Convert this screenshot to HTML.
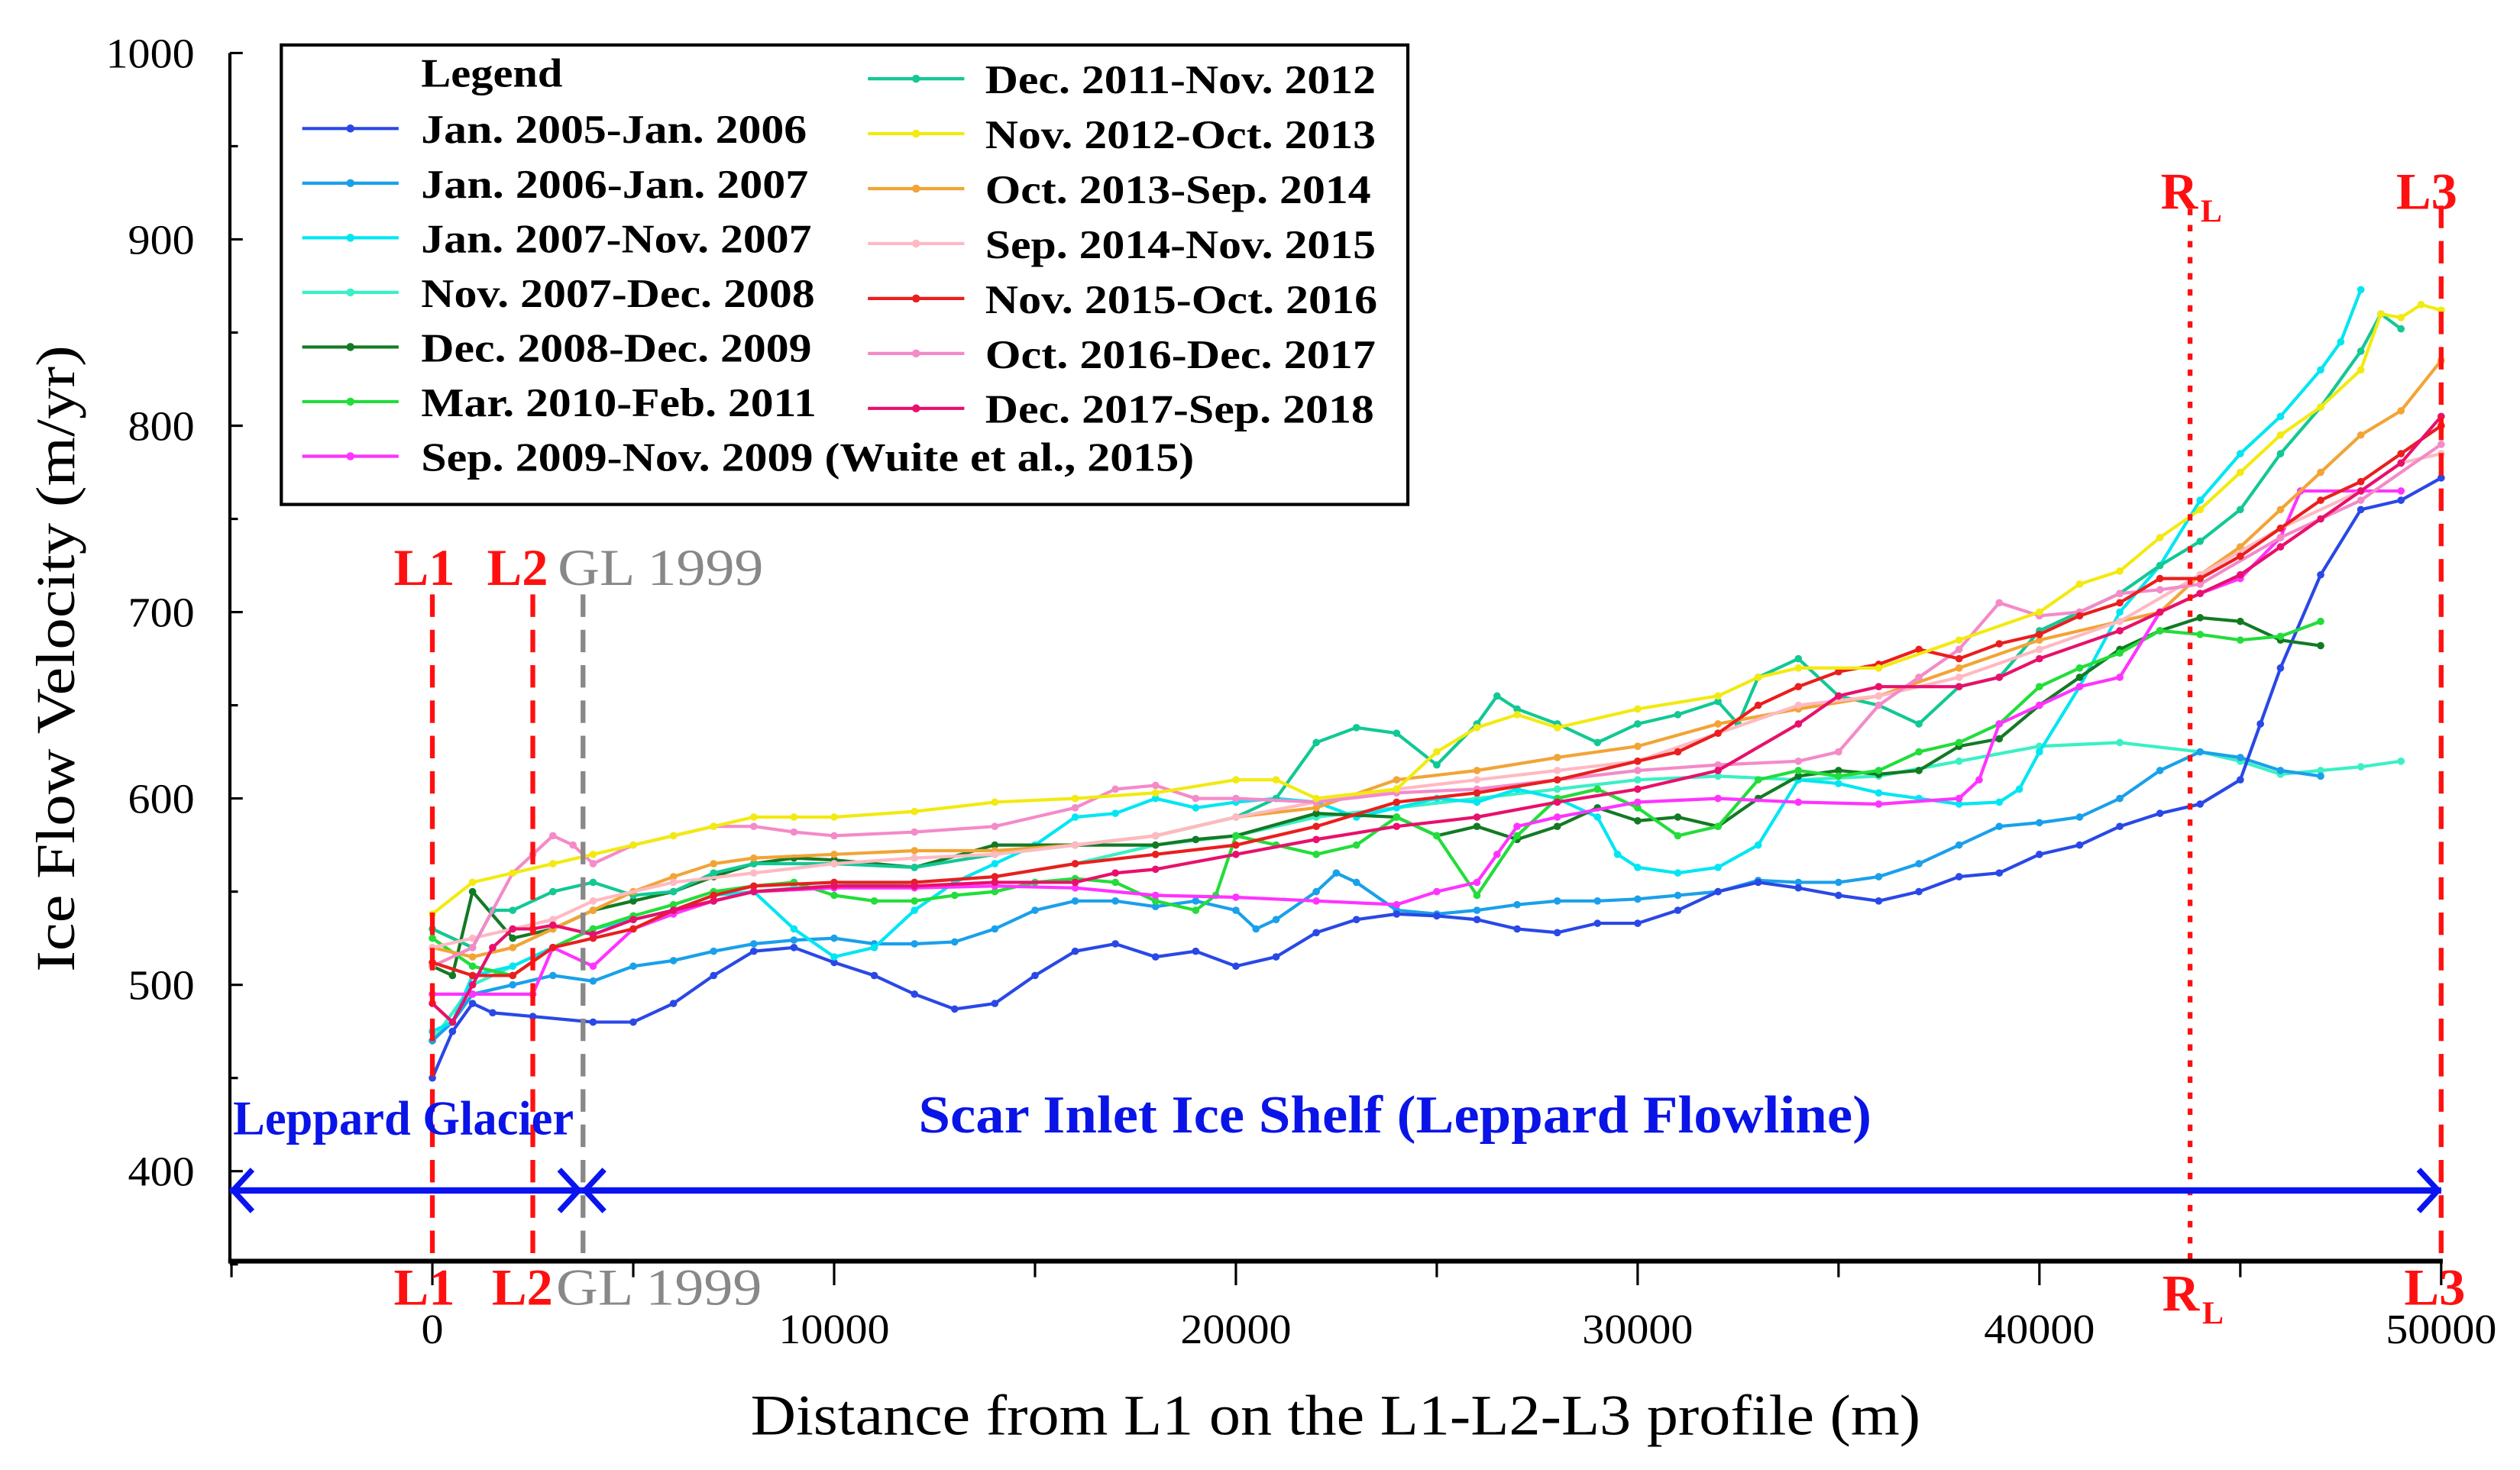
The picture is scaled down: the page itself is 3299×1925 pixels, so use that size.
<!DOCTYPE html>
<html><head><meta charset="utf-8"><style>
html,body{margin:0;padding:0;background:#fff}
svg{display:block}
text{font-family:"Liberation Serif",serif}
</style></head><body>
<svg id="c" width="3299" height="1925" viewBox="0 0 1568 915" xmlns="http://www.w3.org/2000/svg">
<g id="plot"></g>
</svg>
<script>
const xTicks=[0,10000,20000,30000,40000,50000];
const yTicks=[400,500,600,700,800,900,1000];
const seriesNames=["Jan. 2005-Jan. 2006","Jan. 2006-Jan. 2007","Jan. 2007-Nov. 2007","Nov. 2007-Dec. 2008","Dec. 2008-Dec. 2009","Mar. 2010-Feb. 2011","Sep. 2009-Nov. 2009 (Wuite et al., 2015)","Dec. 2011-Nov. 2012","Nov. 2012-Oct. 2013","Oct. 2013-Sep. 2014","Sep. 2014-Nov. 2015","Nov. 2015-Oct. 2016","Oct. 2016-Dec. 2017","Dec. 2017-Sep. 2018"];
const seriesColors=["#2a48e6","#1aa0ea","#00e6f2","#3af0c4","#137a24","#22dd3a","#ff33ff","#12c894","#f2ea10","#f2a436","#ffb9c2","#ea1e1e","#f48ac8","#e8106c"];
const s0=[[0,450],[500,475],[1000,490],[1500,485],[2500,483],[4000,480],[5000,480],[6000,490],[7000,505],[8000,518],[9000,520],[10000,512],[11000,505],[12000,495],[13000,487],[14000,490],[15000,505],[16000,518],[17000,522],[18000,515],[19000,518],[20000,510],[21000,515],[22000,528],[23000,535],[24000,538],[25000,537],[26000,535],[27000,530],[28000,528],[29000,533],[30000,533],[31000,540],[32000,550],[33000,555],[34000,552],[35000,548],[36000,545],[37000,550],[38000,558],[39000,560],[40000,570],[41000,575],[42000,585],[43000,592],[44000,597],[45000,610],[45500,640],[46000,670],[47000,720],[48000,755],[49000,760],[50000,772]];
const s1=[[0,470],[500,480],[1000,495],[2000,500],[3000,505],[4000,502],[5000,510],[6000,513],[7000,518],[8000,522],[9000,524],[10000,525],[11000,522],[12000,522],[13000,523],[14000,530],[15000,540],[16000,545],[17000,545],[18000,542],[19000,545],[20000,540],[20500,530],[21000,535],[22000,550],[22500,560],[23000,555],[24000,540],[25000,538],[26000,540],[27000,543],[28000,545],[29000,545],[30000,546],[31000,548],[32000,550],[33000,556],[34000,555],[35000,555],[36000,558],[37000,565],[38000,575],[39000,585],[40000,587],[41000,590],[42000,600],[43000,615],[44000,625],[45000,622],[46000,615],[47000,612]];
const s2=[[0,475],[500,480],[1000,505],[2000,510],[3000,520],[4000,530],[5000,535],[6000,540],[7000,548],[8000,550],[9000,530],[10000,515],[11000,520],[12000,540],[13000,555],[14000,565],[15000,575],[16000,590],[17000,592],[18000,600],[19000,595],[20000,598],[21000,600],[22000,598],[23000,590],[24000,595],[25000,600],[26000,598],[27000,605],[28000,600],[29000,590],[29500,570],[30000,563],[31000,560],[32000,563],[33000,575],[34000,610],[35000,608],[36000,603],[37000,600],[38000,597],[39000,598],[39500,605],[40000,625],[41000,660],[42000,700],[43000,725],[44000,760],[45000,785],[46000,805],[47000,830],[47500,845],[48000,873]];
const s3=[[0,470],[1000,500],[2000,510],[3000,520],[4000,530],[5000,535],[6000,540],[7000,545],[8000,550],[9000,552],[10000,553],[12000,555],[14000,558],[16000,565],[18000,575],[20000,580],[22000,590],[24000,595],[26000,600],[28000,605],[30000,610],[32000,612],[34000,610],[36000,612],[38000,620],[40000,628],[42000,630],[44000,625],[45000,620],[46000,613],[47000,615],[48000,617],[49000,620]];
const s4=[[0,510],[500,505],[1000,550],[2000,525],[3000,530],[4000,540],[5000,545],[6000,550],[7000,558],[8000,565],[9000,568],[10000,567],[12000,563],[14000,575],[16000,575],[18000,575],[19000,578],[20000,580],[22000,592],[24000,590],[25000,580],[26000,585],[27000,578],[28000,585],[29000,595],[30000,588],[31000,590],[32000,585],[33000,600],[34000,612],[35000,615],[36000,613],[37000,615],[38000,628],[39000,632],[40000,650],[41000,665],[42000,680],[43000,690],[44000,697],[45000,695],[46000,685],[47000,682]];
const s5=[[0,525],[1000,510],[2000,505],[3000,520],[4000,530],[5000,537],[6000,543],[7000,550],[8000,553],[9000,555],[10000,548],[11000,545],[12000,545],[13000,548],[14000,550],[15000,555],[16000,557],[17000,555],[18000,545],[19000,540],[19500,548],[20000,580],[21000,575],[22000,570],[23000,575],[24000,590],[25000,580],[26000,548],[27000,580],[28000,600],[29000,605],[30000,595],[31000,580],[32000,585],[33000,610],[34000,615],[35000,612],[36000,615],[37000,625],[38000,630],[39000,640],[40000,660],[41000,670],[42000,678],[43000,690],[44000,688],[45000,685],[46000,687],[47000,695]];
const s6=[[0,495],[1000,495],[2500,495],[3000,520],[4000,510],[5000,530],[6000,538],[7000,545],[8000,550],[10000,552],[12000,552],[14000,553],[16000,552],[18000,548],[20000,547],[22000,545],[24000,543],[25000,550],[26000,555],[26500,570],[27000,585],[28000,590],[30000,598],[32000,600],[34000,598],[36000,597],[38000,600],[38500,610],[39000,640],[40000,650],[41000,660],[42000,665],[43000,700],[44000,710],[45000,718],[46000,740],[46500,765],[48000,765],[49000,765]];
const s7=[[0,530],[1000,520],[1500,540],[2000,540],[3000,550],[4000,555],[5000,548],[6000,550],[7000,560],[8000,565],[10000,565],[12000,563],[14000,570],[16000,575],[18000,580],[20000,590],[21000,600],[22000,630],[23000,638],[24000,635],[25000,618],[26000,640],[26500,655],[27000,648],[28000,640],[29000,630],[30000,640],[31000,645],[32000,652],[32500,640],[33000,665],[34000,675],[35000,655],[36000,650],[37000,640],[38000,660],[39000,665],[40000,690],[41000,700],[42000,710],[43000,725],[44000,738],[45000,755],[46000,785],[47000,810],[48000,840],[48500,860],[49000,852]];
const s8=[[0,538],[1000,555],[2000,560],[3000,565],[4000,570],[5000,575],[6000,580],[7000,585],[8000,590],[9000,590],[10000,590],[12000,593],[14000,598],[16000,600],[18000,603],[20000,610],[21000,610],[22000,600],[24000,605],[25000,625],[26000,638],[27000,645],[28000,638],[30000,648],[32000,655],[33000,665],[34000,670],[36000,670],[38000,685],[40000,700],[41000,715],[42000,722],[43000,740],[44000,755],[45000,775],[46000,795],[47000,810],[48000,830],[48500,860],[49000,858],[49500,865],[50000,862]];
const s9=[[0,520],[1000,515],[2000,520],[3000,530],[4000,540],[5000,550],[6000,558],[7000,565],[8000,568],[10000,570],[12000,572],[14000,572],[16000,575],[18000,580],[20000,590],[22000,595],[24000,610],[26000,615],[28000,622],[30000,628],[32000,640],[34000,648],[36000,655],[38000,670],[40000,685],[42000,695],[43000,700],[44000,720],[45000,735],[46000,755],[47000,775],[48000,795],[49000,808],[50000,835]];
const s10=[[0,520],[1000,525],[2000,530],[3000,535],[4000,545],[6000,555],[8000,560],[10000,565],[12000,568],[14000,570],[16000,575],[18000,580],[20000,590],[22000,598],[24000,605],[26000,610],[28000,615],[30000,620],[32000,635],[34000,650],[36000,655],[38000,665],[40000,680],[42000,695],[44000,720],[46000,745],[48000,765],[49000,780],[50000,785]];
const s11=[[0,512],[1000,505],[2000,505],[3000,520],[4000,525],[5000,530],[6000,540],[7000,548],[8000,553],[10000,555],[12000,555],[14000,558],[16000,565],[18000,570],[20000,575],[22000,585],[24000,598],[26000,603],[28000,610],[30000,620],[31000,625],[32000,635],[33000,650],[34000,660],[35000,668],[36000,672],[37000,680],[38000,675],[39000,683],[40000,688],[41000,698],[42000,705],[43000,718],[44000,718],[45000,730],[46000,745],[47000,760],[48000,770],[49000,785],[50000,800]];
const s12=[[0,510],[1000,520],[2000,560],[2500,570],[3000,580],[3500,575],[4000,565],[5000,575],[6000,580],[7000,585],[8000,585],[9000,582],[10000,580],[12000,582],[14000,585],[16000,595],[17000,605],[18000,607],[19000,600],[20000,600],[22000,598],[24000,603],[26000,605],[28000,610],[30000,615],[32000,618],[34000,620],[35000,625],[36000,650],[37000,665],[38000,680],[39000,705],[40000,698],[41000,700],[42000,710],[43000,712],[44000,715],[46000,740],[48000,760],[50000,790]];
const s13=[[0,490],[500,480],[1000,500],[1500,520],[2000,530],[2500,530],[3000,532],[4000,527],[5000,535],[6000,540],[7000,545],[8000,550],[10000,553],[12000,553],[14000,555],[16000,555],[17000,560],[18000,562],[20000,570],[22000,578],[24000,585],[26000,590],[28000,598],[30000,605],[32000,615],[34000,640],[35000,655],[36000,660],[38000,660],[39000,665],[40000,675],[42000,690],[43000,700],[44000,710],[45000,720],[46000,735],[47000,750],[48000,765],[49000,780],[50000,805]];
const allSeries=[s0,s1,s2,s3,s4,s5,s6,s7,s8,s9,s10,s11,s12,s13];

const X=v=>269+(v/10000)*250;
const Y=v=>33+(1000-v)*1.16;
const NS="http://www.w3.org/2000/svg";
const svg=document.getElementById('c');
function mk(tag,attrs,parent,txt){const e=document.createElementNS(NS,tag);for(const k in attrs)e.setAttribute(k,attrs[k]);if(txt!==undefined)e.textContent=txt;(parent||svg).appendChild(e);return e;}
const plot=document.getElementById('plot');

const drawOrder=[3,1,0,2,4,5,6,7,9,10,12,11,13,8];
drawOrder.forEach(i=>{
  const g=mk('g',{},plot);
  
  
  const d=allSeries[i].map((p,j)=>(j?'L':'M')+X(p[0]).toFixed(1)+' '+Y(p[1]).toFixed(1)).join(' ');
  const pl=mk('path',{d:d,fill:'none',stroke:seriesColors[i],'stroke-width':2},g);
  
  
  allSeries[i].forEach(p=>{
    const c=mk('circle',{cx:X(p[0]),cy:Y(p[1]),r:2.3,fill:seriesColors[i]},g);
    
    
  });
});

function vline(x,y1,col,dash,name){const l=mk('line',{x1:x,x2:x,y1:y1,y2:785,stroke:col,'stroke-width':3,'stroke-dasharray':dash});}
vline(X(0),370,'#ff1010','14 8','l1-line');
vline(X(2500),370,'#ff1010','14 8','l2-line');
vline(X(3750),370,'#888','14 8','gl1999-line');
vline(X(43750),130,'#ff1010','4 6','rl-line');
vline(X(50000),128,'#ff1010','14 8','l3-line');

const ax=mk('line',{x1:143,x2:143,y1:33,y2:786,stroke:'#000','stroke-width':2});

const bx=mk('line',{x1:142,x2:1520,y1:785,y2:785,stroke:'#000','stroke-width':3});

for(let v=350;v<=1000;v+=50){
  const t=mk('line',{x1:143,x2:v%100===0?151:148,y1:Y(v),y2:Y(v),stroke:'#000','stroke-width':1.5});
  
}
yTicks.forEach(v=>{
  const s=String(v);
  const t=mk('text',{x:121,y:Y(v)+9,'text-anchor':'end','font-size':26,fill:'#000',textLength:s.length*13.8,lengthAdjust:'spacingAndGlyphs'},svg,s);
  
});
for(let v=-5000;v<=50000;v+=5000){
  const t=mk('line',{x1:X(v),x2:X(v),y1:785,y2:v%10000===0?800:795,stroke:'#000','stroke-width':1.5});
  
}
xTicks.forEach(v=>{
  const s=String(v);
  const t=mk('text',{x:X(v),y:836,'text-anchor':'middle','font-size':26,fill:'#000',textLength:s.length*13.8,lengthAdjust:'spacingAndGlyphs'},svg,s);
  
});
</script>
<script>
const svg2=document.getElementById('c');
function T(x,y,txt,size,col,anchor,name,extra,tl){const e=document.createElementNS("http://www.w3.org/2000/svg",'text');e.setAttribute('x',x);e.setAttribute('y',y);e.setAttribute('font-size',size);e.setAttribute('fill',col);e.setAttribute('text-anchor',anchor||'start');if(extra)for(const k in extra)e.setAttribute(k,extra[k]);if(tl){e.setAttribute('textLength',tl);e.setAttribute('lengthAdjust','spacingAndGlyphs');}e.textContent=txt;svg2.appendChild(e);return e;}
T(831,893,'Distance from L1 on the L1-L2-L3 profile (m)',36,'#000','middle','x-axis-title',null,728);
T(0,0,'Ice Flow Velocity (m/yr)',34,'#000','middle','y-axis-title',{transform:'translate(46 410) rotate(-90)'},390);
const B={'font-weight':'bold'};
T(264,364,'L1',32,'#ff1010','middle','l1-label-top',B,38);
T(322,364,'L2',32,'#ff1010','middle','l2-label-top',B,38);
T(347,364,'GL 1999',32,'#888','start','gl1999-label-top',null,128);
T(264,812,'L1',32,'#ff1010','middle','l1-label-bottom',B,38);
T(325,812,'L2',32,'#ff1010','middle','l2-label-bottom',B,38);
T(346,812,'GL 1999',32,'#888','start','gl1999-label-bottom',null,128);
T(1356,130,'R',32,'#ff1010','middle','rl-label-top',B);
T(1376,138,'L',20,'#ff1010','middle','rl-sub-top',B);
T(1357,816,'R',32,'#ff1010','middle','rl-label-bottom',B);
T(1377,824,'L',20,'#ff1010','middle','rl-sub-bottom',B);
T(1510,130,'L3',32,'#ff1010','middle','l3-label-top',B,38);
T(1515,812,'L3',32,'#ff1010','middle','l3-label-bottom',B,38);
T(145,706,'Leppard Glacier',30,'#0a14e6','start','leppard-glacier-label',B,212);
T(868,705,'Scar Inlet Ice Shelf (Leppard Flowline)',33,'#0a14e6','middle','scar-inlet-label',B,593);
function arrow(x1,x2,name){
  const g=document.createElementNS("http://www.w3.org/2000/svg",'g');
  
  const y=741;
  g.innerHTML=`<line x1="${x1}" x2="${x2}" y1="${y}" y2="${y}" stroke="#0a14f0" stroke-width="4"/>
  <polyline points="${x1+14},${y-13} ${x1+2},${y} ${x1+14},${y+13}" fill="none" stroke="#0a14f0" stroke-width="3.5"/>
  <polyline points="${x2-14},${y-13} ${x2-2},${y} ${x2-14},${y+13}" fill="none" stroke="#0a14f0" stroke-width="3.5"/>`;
  svg2.appendChild(g);
}
arrow(143,362,'glacier-extent-arrow');
arrow(362,1519,'ice-shelf-extent-arrow');

const lg=document.createElementNS("http://www.w3.org/2000/svg",'g');

svg2.appendChild(lg);
lg.innerHTML='<rect x="175" y="28" width="701" height="286" fill="#fff" stroke="#000" stroke-width="2"/><text x="262" y="54" font-size="25" font-weight="bold" textLength="88" lengthAdjust="spacingAndGlyphs" font-family="Liberation Serif, serif">Legend</text>';
const leftIdx=[0,1,2,3,4,5,6], rightIdx=[7,8,9,10,11,12,13];
const legLens=[240,241,243,245,243,246,481,243,243,240,243,244,243,242];
function legEntry(i,lx,tx,y){
  const e=document.createElementNS("http://www.w3.org/2000/svg",'g');
  
  
  e.innerHTML=`<line x1="${lx}" x2="${lx+60}" y1="${y}" y2="${y}" stroke="${seriesColors[i]}" stroke-width="2"/><circle cx="${lx+30}" cy="${y}" r="2.5" fill="${seriesColors[i]}"/><text x="${tx}" y="${y+9}" font-size="25" font-weight="bold" textLength="${legLens[i]}" lengthAdjust="spacingAndGlyphs" font-family="Liberation Serif, serif">${seriesNames[i]}</text>`;
  lg.appendChild(e);
}
leftIdx.forEach((i,k)=>legEntry(i,188,262,80+k*34));
rightIdx.forEach((i,k)=>legEntry(i,540,613,49+k*34.2));
</script>
</body></html>
